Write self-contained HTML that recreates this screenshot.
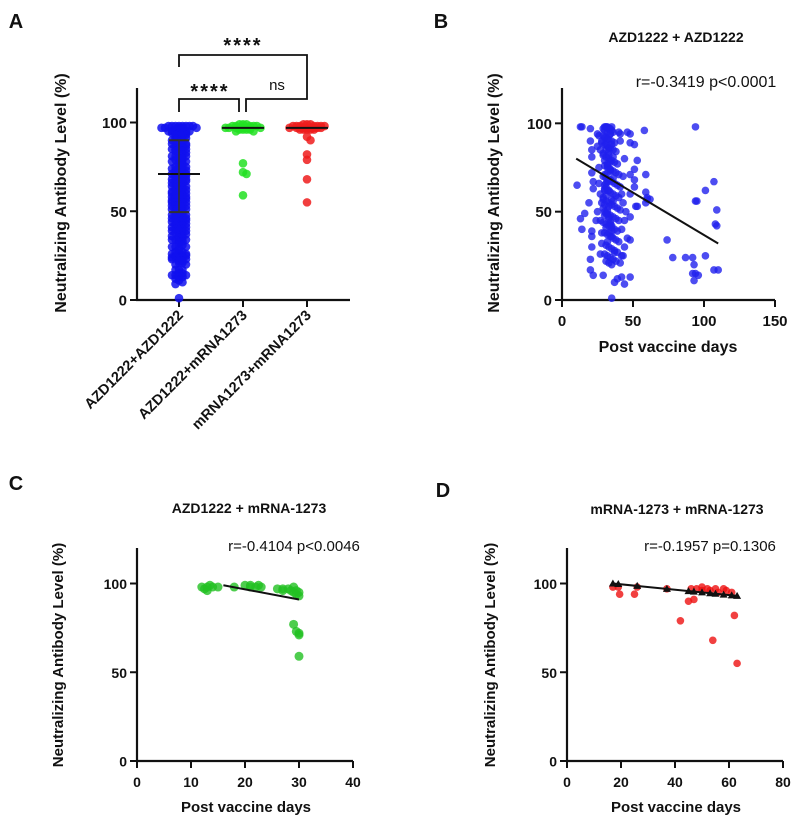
<!DOCTYPE html>
<html><head><meta charset="utf-8">
<style>
html,body{margin:0;padding:0;background:#fff;}
svg{display:block;font-family:"Liberation Sans",Arial,sans-serif;}
</style></head>
<body>
<svg id="fig" width="800" height="823" viewBox="0 0 800 823" xmlns="http://www.w3.org/2000/svg"></svg>
<script>
// ---- data ----
const catsA = ["AZD1222+AZD1222","AZD1222+mRNA1273","mRNA1273+mRNA1273"];
const greenA = [97,98,99,98,97,96,97,98,99,97,96,95,98,97,96,97,98,96,95,97,99,97,77,72,71,59];
const redA = [98,97,99,98,97,96,98,97,99,98,97,96,97,98,97,96,98,97,96,97,98,99,97,96,92,90,82,79,68,55];
const meanA = [71,97,97];
const sdLowA = [49.5,null,null];
const sdHighA = [90,null,null];
const bDays = [10.6,13,14,13,14,16,19,20,20,21,21,21,22,22,21,21,21,20,20,22,24,25,25,25,26,27,27,29,28,28,35,37,39,42,44,48,41,46,48,48,51,53,51,48,51,51,48,52,53,48,48,46,41,42,58,59,59,60,60,59,62,74,78,87,92,93,92,93,94,96,94,94,95,101,101,107,108,109,109,107,110,
30,31,32,33,34,35,36,29,31,33,35,37,30,32,34,36,38,29,31,33,35,37,39,30,32,34,36,38,40,29,31,33,35,37,39,41,30,32,34,36,38,40,29,31,33,35,37,39,41,30,32,34,36,38,40,29,31,33,35,37,39,30,32,34,36,38,40,31,33,35,37,39,30,32,34,36,38,33,35,31,42,43,44,41,40,43,44,45,42,44,43,28,27,26,27,28,26,
29,30,31,32,33,34,35,30,31,32,33,34,29,30,31,32,33,34,35,36,30,31,32,33,34,29,31,33,35,30,32,34,36,31,33,35,30,32,34,29,31,33,35,30,32,34,36,31,33,35,37,30,32,34,28,33];
const bVals = [65,98,98,46,40,49,55,97,90,85,81,72,67,63,39,36,30,23,17,14,45,50,87,94,75,60,26,14,32,38,1,10,12,13,9,13,94,95,94,89,88,79,74,71,68,64,60,53,53,47,34,35,21,25,96,71,61,57,58,55,57,34,24,24,24,20,15,11,15,14,98,56,56,62,25,67,43,42,51,17,17,
98,98,98,97,97,96,95,93,92,91,90,89,88,87,86,85,84,82,81,80,79,78,77,76,75,74,73,72,71,70,69,68,67,66,65,64,63,62,61,60,59,58,57,56,55,54,53,52,51,50,49,48,47,46,45,44,43,42,41,40,39,38,37,36,35,34,33,31,30,29,28,27,26,25,24,23,22,21,20,22,60,70,80,90,95,55,45,50,40,30,25,90,85,66,45,55,93,
97,96,98,95,97,94,98,92,88,91,86,94,83,79,85,76,82,73,88,69,71,66,77,62,68,58,64,53,57,48,51,44,56,41,47,36,62,33,43,52,59,46,39,54,67,74,81,49,38,42,27,65,72,78,89,84];
const cDays = [12,12.5,13,13,14,15,13.5,18,20,21,21,22,23,22.5,26,27,27,28,28.5,29,29,29.5,30,30,29.5,29,29.5,30,30,30];
const cVals = [98,97,96,98,98,98,99,98,99,99,98,98,98,99,97,97,96,97,96,98,95,94,95,93,96,77,73,71,72,59];
const dDays = [17,19,19.5,26,25,37,42,45,46,48,50,52,53,55,56,54,58,59,61,62,63,47,50];
const dVals = [98,98,94,98,94,97,79,90,97,97,96,97,96,97,95,68,97,96,95,82,55,91,98];
const fitB = [[10,80],[110,32]];
const fitC = [[16,99],[30,91]];
const fitD = [[17,100],[63,93]];
const triD = [17,19,26,37,45,47,50,53,55,58,61,63];

const NS="http://www.w3.org/2000/svg";
const svg=document.getElementById('fig');
function el(tag,attrs,parent,text){const e=document.createElementNS(NS,tag);for(const k in attrs)e.setAttribute(k,attrs[k]);if(text!==undefined)e.textContent=text;(parent||svg).appendChild(e);return e;}

function axes(g,x0,x1,yTop,yBot,ymap,yticks,xticks,xmap,fontSize){
  const tk=el('g',{},g);
  
  
  el('line',{x1:x0,y1:yTop,x2:x0,y2:yBot+1,stroke:'#111','stroke-width':2.2},tk);
  el('line',{x1:x0-1,y1:yBot,x2:x1,y2:yBot,stroke:'#111','stroke-width':2.2},tk);
  yticks.forEach(v=>{const y=ymap(v);
    el('line',{x1:x0-7,y1:y,x2:x0,y2:y,stroke:'#111','stroke-width':2},tk);
    const t=el('text',{x:x0-10,y:y+5.5,'text-anchor':'end','font-size':fontSize,'font-weight':'bold',fill:'#111'},tk,String(v));
    
    
  });
  if(xticks) xticks.forEach(v=>{const x=xmap(v);
    el('line',{x1:x,y1:yBot,x2:x,y2:yBot+7,stroke:'#111','stroke-width':2},tk);
    const t=el('text',{x:x,y:yBot+26,'text-anchor':'middle','font-size':fontSize,'font-weight':'bold',fill:'#111'},tk,String(v));
    
    
  });
}
function txt(x,y,s,size,name,extra){const t=el('text',Object.assign({x:x,y:y,'font-size':size,'font-weight':'bold',fill:'#111','text-anchor':'middle'},extra||{}),svg,s);
  
  return t;}
function ytitle(cx,cy,size){const t=el('text',{x:0,y:0,transform:`translate(${cx},${cy}) rotate(-90)`,'font-size':size,'font-weight':'bold','text-anchor':'middle',fill:'#111'},svg,'Neutralizing Antibody Level (%)');
  
  }

// ---- Panel A ----
const gA=el('g',{});


const yA=v=>300-v*1.775;
const xA=i=>179+i*64;
axes(gA,137,350,88,300,yA,[0,50,100],null,null,15);
[0,1,2].forEach(i=>{el('line',{x1:xA(i),y1:300,x2:xA(i),y2:307,stroke:'#111','stroke-width':2},gA);
  const t=el('text',{x:0,y:0,transform:`translate(${xA(i)+5},${316}) rotate(-45)`,'text-anchor':'end','font-size':14.5,'font-weight':'bold',fill:'#111'},gA,catsA[i]);
  
  });
function swarm(vals,cx,color,name,r){
  const bins={};
  vals.slice().sort((a,b)=>b-a).forEach(v=>{
    const y=yA(v);const key=Math.round(y/6);
    const j=bins[key]||0;bins[key]=j+1;
    const maxW=v>=95?20:10;
    const steps=Math.floor(maxW/3.5);
    const m=j%(2*steps+1);
    const off=(m%2?1:-1)*Math.ceil(m/2)*3.5;
    const c=el('circle',{cx:cx+off,cy:y,r:r,fill:color,'fill-opacity':0.85},gA);
    
    });
}
swarm(bVals,xA(0),'#1010ee','point-azd-azd',4.3);
swarm(greenA,xA(1),'#22e022','point-azd-mrna',4.3);
swarm(redA,xA(2),'#ee1c1c','point-mrna-mrna',4.3);
meanA.forEach((m,i)=>{const l=el('line',{x1:xA(i)-21,x2:xA(i)+21,y1:yA(m),y2:yA(m),stroke:'#111','stroke-width':2},gA);
  
  
  if(sdLowA[i]!=null){el('line',{x1:xA(i),x2:xA(i),y1:yA(sdLowA[i]),y2:yA(sdHighA[i]),stroke:'#333','stroke-width':1.5},gA);
    [sdLowA[i],sdHighA[i]].forEach(v=>el('line',{x1:xA(i)-10,x2:xA(i)+10,y1:yA(v),y2:yA(v),stroke:'#333','stroke-width':2},gA));}});
const br=el('g',{fill:'none',stroke:'#111','stroke-width':1.8},gA);


el('path',{d:`M179 67 V55 H307 V87`},br);
el('path',{d:`M179 112 V99 H239 V112`},br);
el('path',{d:`M246 112 V99 H307 V87`},br);
txt(243,52,'****',20,'sig-label-top',{'letter-spacing':'2'});
txt(210,98,'****',20,'sig-label-left',{'letter-spacing':'2'});
txt(277,90,'ns',15,'sig-label-ns',{'font-weight':'normal'});
txt(16,28,'A',20,'panel-label-a');
ytitle(66,193,16);

function scatter(name,x0,x1,yTop,yBot,xmax,xticks,days,vals,color,fit,r,fs){
  const g=el('g',{});
  
  
  const ym=v=>yBot-v*(yBot-yTop)/120;
  const xm=d=>x0+d*(x1-x0)/xmax;
  axes(g,x0,x1,yTop,yBot,ym,[0,50,100],xticks,xm,fs);
  days.forEach((d,i)=>{const c=el('circle',{cx:xm(d),cy:ym(vals[i]),r:r,fill:color,'fill-opacity':0.8},g);
    
    });
  const l=el('line',{x1:xm(fit[0][0]),y1:ym(fit[0][1]),x2:xm(fit[1][0]),y2:ym(fit[1][1]),stroke:'#111','stroke-width':2},g);
  
  
  return {g,xm,ym};
}
// ---- Panel B ----
scatter('panel-b',562,775,88,300,150,[0,50,100,150],bDays,bVals,'#2020ee',fitB,3.8,15);
txt(441,28,'B',20,'panel-label-b');
txt(676,42,'AZD1222 + AZD1222',14,'chart-title-b');
txt(706,87,'r=-0.3419  p<0.0001',16,'stats-b',{'font-weight':'normal'});
txt(668,352,'Post vaccine days',16,'x-axis-title');
ytitle(499,193,16);

// ---- Panel C ----
scatter('panel-c',137,353,548,761,40,[0,10,20,30,40],cDays,cVals,'#22c022',fitC,4.5,14);
txt(16,490,'C',20,'panel-label-c');
txt(249,513,'AZD1222 + mRNA-1273',14,'chart-title-c');
txt(294,551,'r=-0.4104  p<0.0046',15,'stats-c',{'font-weight':'normal'});
txt(246,812,'Post vaccine days',15,'x-axis-title');
ytitle(63,655,15);

// ---- Panel D ----
const D=scatter('panel-d',567,783,548,761,80,[0,20,40,60,80],dDays,dVals,'#ee1010',fitD,3.8,14);
triD.forEach(d=>{const v=fitD[0][1]+(fitD[1][1]-fitD[0][1])*(d-fitD[0][0])/(fitD[1][0]-fitD[0][0]);
  const x=D.xm(d),y=D.ym(v);
  const p=el('path',{d:`M${x} ${y-4} L${x+4} ${y+3} L${x-4} ${y+3}Z`,fill:'#111'},D.g);
  
  });
txt(443,497,'D',20,'panel-label-d');
txt(677,514,'mRNA-1273 + mRNA-1273',14,'chart-title-d');
txt(710,551,'r=-0.1957 p=0.1306',15,'stats-d',{'font-weight':'normal'});
txt(676,812,'Post vaccine days',15,'x-axis-title');
ytitle(495,655,15);
</script>
</body></html>
